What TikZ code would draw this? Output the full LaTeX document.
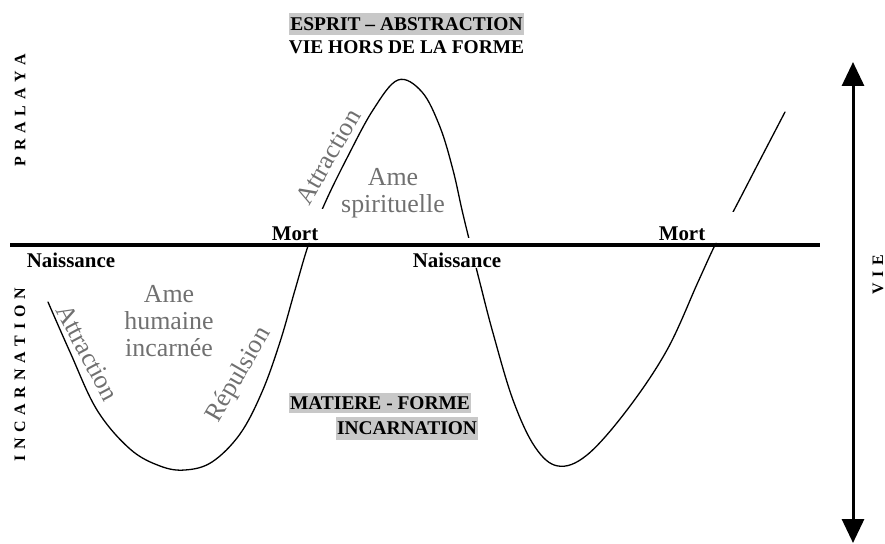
\documentclass[tikz,border=0pt]{standalone}
\usepackage{fontspec}
\setmainfont{Liberation Serif}
\usetikzlibrary{arrows.meta}
\definecolor{lbl}{RGB}{112,112,112}
\definecolor{boxgray}{RGB}{200,200,200}
\newcommand{\lsp}{\hspace{0.36em}}
\begin{document}
\begin{tikzpicture}[x=1bp,y=-1bp,
  curve/.style={line width=1.3bp, line cap=round},
  marker/.style={font=\fontsize{21}{23}\selectfont\bfseries, inner sep=1bp},
  title/.style={font=\fontsize{19.5}{22}\selectfont\bfseries, inner sep=0pt},
  graybox/.style={fill=boxgray, minimum height=22bp, inner xsep=1.5bp, inner ysep=0pt},
  soul/.style={font=\fontsize{26}{27}\selectfont, text=lbl, inner sep=0pt, align=center},
  side/.style={font=\fontsize{16}{18}\selectfont\bfseries, rotate=90, inner sep=0pt}]
\useasboundingbox (0,0) rectangle (885,544);

% horizontal axis
\coordinate (axL) at (10,245);
\coordinate (axR) at (820,245);

% curve (one smooth line, with the gaps of the reference)
\begin{scope}[even odd rule]
\clip (0,0) rectangle (885,544)
  (295,209) rectangle (340,243)
  (455,238) rectangle (490,268)
  (700,212) rectangle (745,243);
\draw[curve] plot[smooth, tension=0.6] coordinates {
  (48,302) (70,352) (97,410) (130,449) (160,466) (185,470) (212,462)
  (240,434) (262,392) (280,342) (295,290) (309,243) (325,203)
  (347,158) (373,110) (398,80) (422,92) (440,127) (453,170) (462,210)
  (470,243) (480,283) (493,333) (513,400) (535,447) (558,466)
  (587,455) (627,410) (667,350) (698,282) (716,243) (733,212)
  (760,160) (785,112)};
\end{scope}

\draw[line width=3.5bp] (axL) -- (axR);

% vertical arrow
\coordinate (vtop) at (853,62);
\coordinate (vbot) at (853,543);
\draw[line width=3bp, {Triangle[length=24bp,width=22bp]}-{Triangle[length=24bp,width=22bp]}] (vtop) -- (vbot);

% titles
\node[title, graybox] (esprit) at (406.5,24) {ESPRIT – ABSTRACTION};
\node[title] (viehors) at (406.5,47.5) {VIE HORS DE LA FORME};
\node[title, graybox, minimum height=20bp] (matiere) at (380,403) {MATIERE - FORME};
\node[title, graybox, minimum height=23bp] (incarn) at (407,428.5) {INCARNATION};

% axis markers
\node[marker] (nais1) at (71,260) {Naissance};
\node[marker] (mort1) at (295,233.5) {Mort};
\node[marker] (nais2) at (457,260) {Naissance};
\node[marker] (mort2) at (682,233.5) {Mort};

% souls
\node[soul, anchor=north] (amehum) at (169,285) {Ame\\humaine\\incarnée};
\node[soul, anchor=north] (amespi) at (393,168) {Ame\\spirituelle};

% rotated labels
\node[soul, rotate=-62] (attr1) at (87.5,352.5) {Attraction};
\node[soul, rotate=60] (repul) at (239,375) {Répulsion};
\node[soul, rotate=60] (attr2) at (328,157) {Attraction};

% side labels
\node[side] (pralaya) at (20,110) {P\lsp R\lsp A\lsp L\lsp A\lsp Y\lsp A};
\node[side] (incside) at (20,375) {I\lsp N\lsp C\lsp A\lsp R\lsp N\lsp A\lsp T\lsp I\lsp O\lsp N};
\node[side] (vie) at (878,275) {V\lsp I\lsp E};
\end{tikzpicture}
\end{document}
